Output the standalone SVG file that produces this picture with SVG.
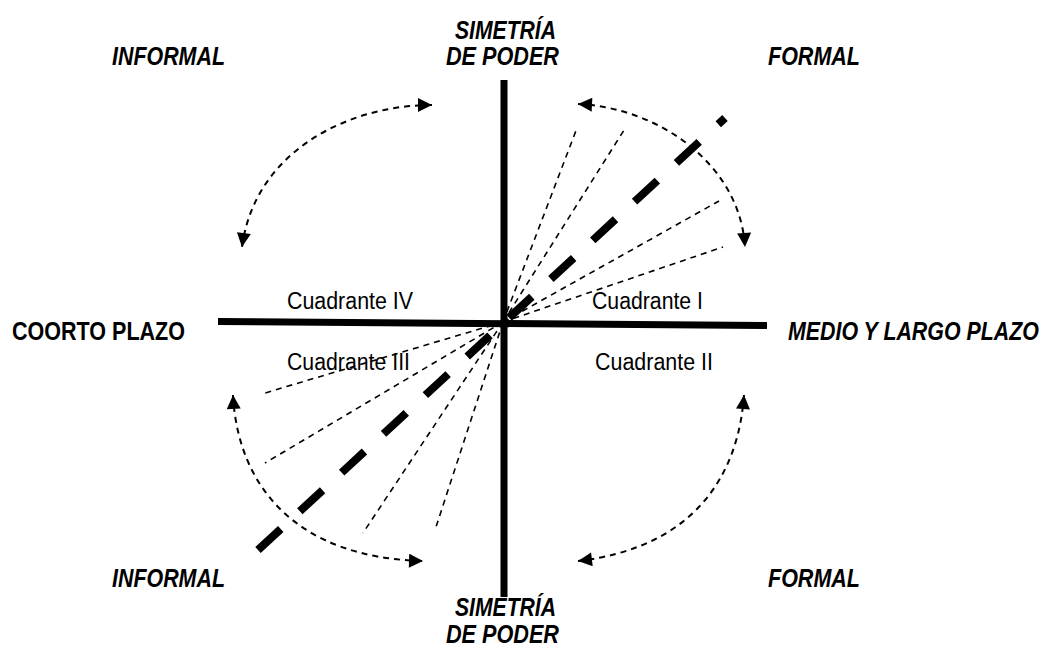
<svg xmlns="http://www.w3.org/2000/svg" width="1050" height="648" viewBox="0 0 1050 648">
<style>
.lbl{font-family:"Liberation Sans",Arial,sans-serif;font-weight:bold;font-style:italic;font-size:25px;fill:#000}
.lblr{font-family:"Liberation Sans",Arial,sans-serif;font-weight:bold;font-size:25px;fill:#000}
.q{font-family:"Liberation Sans",Arial,sans-serif;font-size:23px;fill:#000}
.axis{stroke:#000;stroke-width:7;fill:none}
.diag{stroke:#000;stroke-width:8;stroke-dasharray:31 26;fill:none}
.ray{stroke:#000;stroke-width:1.6;stroke-dasharray:6 5;fill:none}
.arc{stroke:#000;stroke-width:2;stroke-dasharray:6 5;fill:none;marker-start:url(#ah);marker-end:url(#ah)}
</style>
<defs>
<marker id="ah" viewBox="0 0 10 10" refX="10" refY="5" markerUnits="userSpaceOnUse" markerWidth="15" markerHeight="14" orient="auto-start-reverse">
<path d="M0,0 L10,5 L0,10 z" fill="#000"/>
</marker>
</defs>
<rect width="1050" height="648" fill="#fff"/>
<g id="connectors">
<line class="axis" x1="504" y1="80" x2="504" y2="597"/>
<line class="axis" x1="218" y1="321.5" x2="767" y2="325.5"/>
<g id="rays">
<line class="ray" x1="503" y1="322" x2="577" y2="128"/>
<line class="ray" x1="503" y1="322" x2="626" y2="127"/>
<line class="ray" x1="503" y1="322" x2="719" y2="201"/>
<line class="ray" x1="503" y1="322" x2="723" y2="247"/>
<line class="ray" x1="503" y1="322" x2="265" y2="393"/>
<line class="ray" x1="503" y1="322" x2="265" y2="463"/>
<line class="ray" x1="503" y1="322" x2="363" y2="533"/>
<line class="ray" x1="503" y1="322" x2="435" y2="530"/>
</g>
<line class="diag" x1="258" y1="550" x2="725" y2="118"/>
<path class="arc" d="M432,105 C350,105 255,150 242,247"/>
<path class="arc" d="M578,104 C660,108 740,165 745,247"/>
<path class="arc" d="M744,395 C738,480 690,548 578,561"/>
<path class="arc" d="M233,395 C238,490 300,558 423,561"/>
</g>
<g id="n-informal-top"><text class="lbl" x="112" y="65" textLength="113" lengthAdjust="spacingAndGlyphs">INFORMAL</text></g>
<g id="n-formal-top"><text class="lbl" x="768" y="65" textLength="92" lengthAdjust="spacingAndGlyphs">FORMAL</text></g>
<g id="n-simetria-top">
<text class="lbl" x="455" y="39" textLength="101" lengthAdjust="spacingAndGlyphs">SIMETRÍA</text>
<text class="lbl" x="446" y="65" textLength="113" lengthAdjust="spacingAndGlyphs">DE PODER</text>
</g>
<g id="n-corto"><text class="lblr" x="12" y="340" textLength="173" lengthAdjust="spacingAndGlyphs">COORTO PLAZO</text></g>
<g id="n-medio"><text class="lbl" transform="translate(788,340) scale(0.855,1)" x="0" y="0">MEDIO Y LARGO PLAZO</text></g>
<g id="n-informal-bottom"><text class="lbl" x="112" y="587" textLength="113" lengthAdjust="spacingAndGlyphs">INFORMAL</text></g>
<g id="n-formal-bottom"><text class="lbl" x="768" y="587" textLength="92" lengthAdjust="spacingAndGlyphs">FORMAL</text></g>
<g id="n-simetria-bottom">
<text class="lbl" x="455" y="616" textLength="101" lengthAdjust="spacingAndGlyphs">SIMETRÍA</text>
<text class="lbl" x="446" y="643" textLength="113" lengthAdjust="spacingAndGlyphs">DE PODER</text>
</g>
<g id="n-q4"><text class="q" x="287" y="309" textLength="126" lengthAdjust="spacingAndGlyphs">Cuadrante IV</text></g>
<g id="n-q1"><text class="q" x="592" y="309" textLength="111" lengthAdjust="spacingAndGlyphs">Cuadrante I</text></g>
<g id="n-q3"><text class="q" x="287" y="370" textLength="123" lengthAdjust="spacingAndGlyphs">Cuadrante III</text></g>
<g id="n-q2"><text class="q" x="595" y="370" textLength="118" lengthAdjust="spacingAndGlyphs">Cuadrante II</text></g>
</svg>
